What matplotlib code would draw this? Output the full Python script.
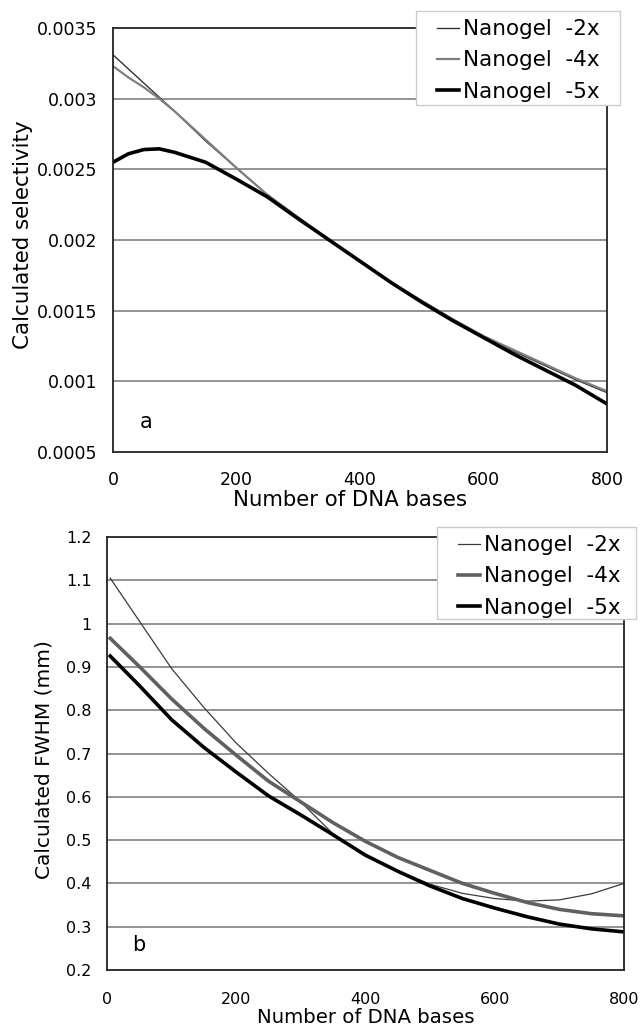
import matplotlib
matplotlib.use("Agg")
import numpy as np
import matplotlib.pyplot as plt
from matplotlib.lines import Line2D
from matplotlib.patches import Rectangle
from matplotlib.legend_handler import HandlerLine2D

plt.rcParams['font.family'] = ['DejaVu Sans']

# ---------- Panel a: selectivity ----------
bases_a = [0, 25, 50, 75, 100, 150, 200, 250, 300, 350, 400, 450, 500, 550, 600, 650, 700, 750, 800]
sel_2x = [0.00331, 0.00321, 0.00311, 0.00301, 0.00291, 0.00270, 0.00251, 0.00232, 0.00216, 0.00200,
          0.00185, 0.00170, 0.00157, 0.00144, 0.00132, 0.00121, 0.00111, 0.00101, 0.00092]
sel_4x = [0.00323, 0.00315, 0.00308, 0.00300, 0.00291, 0.00271, 0.00251, 0.00232, 0.00216, 0.00200,
          0.00185, 0.00170, 0.00157, 0.00144, 0.00132, 0.00122, 0.00112, 0.00102, 0.00093]
sel_5x = [0.00255, 0.00261, 0.00264, 0.002645, 0.00262, 0.00255, 0.00243, 0.002305, 0.00215, 0.00200,
          0.00185, 0.00170, 0.00156, 0.00143, 0.00131, 0.00119, 0.00108, 0.00097, 0.00084]

# ---------- Panel b: FWHM ----------
bases_b = [5, 50, 100, 150, 200, 250, 300, 350, 400, 450, 500, 550, 600, 650, 700, 750, 800]
fwhm_2x = [1.105, 1.006, 0.896, 0.806, 0.724, 0.654, 0.588, 0.514, 0.467, 0.429, 0.398,
           0.377, 0.365, 0.359, 0.362, 0.376, 0.400]
fwhm_4x = [0.966, 0.901, 0.826, 0.758, 0.696, 0.636, 0.588, 0.540, 0.497, 0.460, 0.430,
           0.400, 0.377, 0.356, 0.340, 0.330, 0.325]
fwhm_5x = [0.925, 0.857, 0.778, 0.714, 0.657, 0.602, 0.558, 0.512, 0.465, 0.428, 0.394,
           0.365, 0.343, 0.323, 0.306, 0.295, 0.288]

labels = ["Nanogel  -2x", "Nanogel  -4x", "Nanogel  -5x"]
xticks = [0, 200, 400, 600, 800]
yticks_a = [0.0005, 0.001, 0.0015, 0.002, 0.0025, 0.003, 0.0035]
yticklabels_a = ["0.0005", "0.001", "0.0015", "0.002", "0.0025", "0.003", "0.0035"]
yticks_b = [0.2, 0.3, 0.4, 0.5, 0.6, 0.7, 0.8, 0.9, 1.0, 1.1, 1.2]
yticklabels_b = ["0.2", "0.3", "0.4", "0.5", "0.6", "0.7", "0.8", "0.9", "1", "1.1", "1.2"]

W, H = 642, 1028
fig = plt.figure(figsize=(W / 100, H / 100), dpi=100)

def px_axes(l, t, r, b):
    return fig.add_axes([l / W, 1 - b / H, (r - l) / W, (b - t) / H])

ax1 = px_axes(113, 28, 607, 452)
ax2 = px_axes(107, 537, 624, 970)

grid_col = '#8a8a8a'

def style(ax, yt, ytl, ylim, xpad, fs):
    ax.set_xlim(0, 800)
    ax.set_ylim(*ylim)
    ax.set_xticks(xticks)
    ax.set_xticklabels([str(v) for v in xticks])
    ax.set_yticks(yt)
    ax.set_yticklabels(ytl)
    ax.tick_params(length=0, labelsize=fs, colors='black')
    ax.tick_params(axis='y', pad=11)
    ax.tick_params(axis='x', pad=xpad)
    for yv in yt[1:-1]:
        ax.axhline(yv, color=grid_col, lw=1.3, zorder=0)
    for s in ax.spines.values():
        s.set_linewidth(1.3)
        s.set_color('#222222')

style(ax1, yticks_a, yticklabels_a, (0.0005, 0.0035), 14, 12.5)
style(ax2, yticks_b, yticklabels_b, (0.2, 1.2), 15.5, 11.5)

# Panel a lines
ax1.plot(bases_a, sel_2x, color='#333333', lw=1.0, label=labels[0])
ax1.plot(bases_a, sel_4x, color='#7f7f7f', lw=1.6, label=labels[1])
ax1.plot(bases_a, sel_5x, color='#000000', lw=2.6, label=labels[2])

# Panel b lines
ax2.plot(bases_b, fwhm_2x, color='#3a3a3a', lw=0.9, label=labels[0])
ax2.plot(bases_b, fwhm_4x, color='#606060', lw=2.6, label=labels[1])
ax2.plot(bases_b, fwhm_5x, color='#000000', lw=2.6, label=labels[2])

ax1.set_xlabel("Number of DNA bases", fontsize=15.3)
ax1.xaxis.set_label_coords(0.48, -0.09)
ax1.set_ylabel("Calculated selectivity", fontsize=15.4)
ax1.yaxis.set_label_coords(-0.162, 0.512)

ax2.set_xlabel("Number of DNA bases", fontsize=14.2)
ax2.xaxis.set_label_coords(0.5, -0.088)
ax2.set_ylabel("Calculated FWHM (mm)", fontsize=14.5)
ax2.yaxis.set_label_coords(-0.104, 0.485)

ax1.text(0.055, 0.056, "a", transform=ax1.transAxes, fontsize=15)
ax2.text(0.048, 0.045, "b", transform=ax2.transAxes, fontsize=15)


class RightLine(HandlerLine2D):
    def __init__(self, frac, **kw):
        super().__init__(**kw)
        self.frac = frac

    def create_artists(self, legend, orig_handle, xdescent, ydescent, width,
                       height, fontsize, trans):
        artists = super().create_artists(legend, orig_handle, xdescent, ydescent,
                                         width, height, fontsize, trans)
        for a in artists:
            xd = np.asarray(a.get_xdata(), float)
            if len(xd) >= 2:
                x0, x1 = xd.min(), xd.max()
                a.set_xdata(np.linspace(x1 - (x1 - x0) * self.frac, x1, len(xd)))
        return artists


def legend(ax, l, t, r, b):
    lg = ax.legend(loc='upper left', bbox_to_anchor=(l / W, 1 - t / H),
                   bbox_transform=fig.transFigure, fontsize=15.5, frameon=False,
                   handlelength=1.6, handletextpad=0.2,
                   labelspacing=0.52, borderpad=0.38, borderaxespad=0,
                   handler_map={Line2D: RightLine(0.62)})
    lg.set_zorder(6)
    rect = Rectangle((l / W, 1 - b / H), (r - l) / W, (b - t) / H,
                     transform=fig.transFigure, facecolor='white',
                     edgecolor='#cccccc', lw=1.0, clip_on=False, zorder=5.5)
    ax.add_patch(rect)
    return lg

legend(ax1, 416, 11, 620, 105)
legend(ax2, 437, 527, 636, 619)

fig.savefig("out.png", dpi=100)
